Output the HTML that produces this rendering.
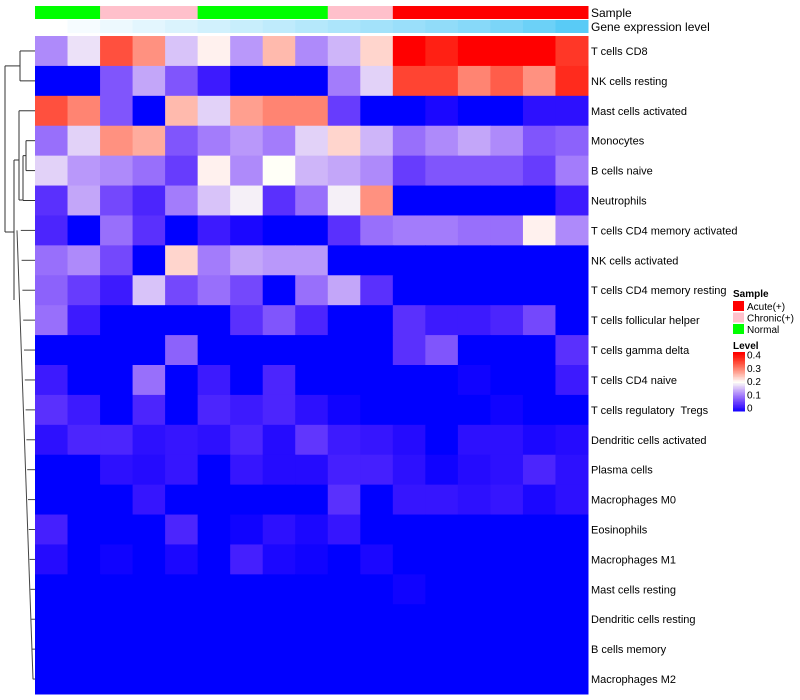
<!DOCTYPE html>
<html><head><meta charset="utf-8"><style>
body{margin:0;background:#fff;}
svg{display:block;font-family:"Liberation Sans",sans-serif;}
text{white-space:pre;}
</style></head><body>
<svg id="chart" width="800" height="700"></svg>
<script>
const rows = ["T cells CD8","NK cells resting","Mast cells activated","Monocytes","B cells naive","Neutrophils","T cells CD4 memory activated","NK cells activated","T cells CD4 memory resting","T cells follicular helper","T cells gamma delta","T cells CD4 naive","T cells regulatory  Tregs","Dendritic cells activated","Plasma cells","Macrophages M0","Eosinophils","Macrophages M1","Mast cells resting","Dendritic cells resting","B cells memory","Macrophages M2"];
const sampleGroups = ["Normal","Normal","Chronic","Chronic","Chronic","Normal","Normal","Normal","Normal","Chronic","Chronic","Acute","Acute","Acute","Acute","Acute","Acute"];
const geneLevel = [0,0.05,0.1,0.15,0.2,0.25,0.3,0.35,0.4,0.45,0.5,0.55,0.6,0.65,0.72,0.8,0.9];
const values = [
[0.12,0.18,0.33,0.28,0.16,0.21,0.13,0.25,0.12,0.15,0.23,0.40,0.37,0.40,0.40,0.40,0.35],
[0,0,0.08,0.14,0.08,0.03,0,0,0,0.11,0.17,0.34,0.34,0.29,0.32,0.28,0.36],
[0.33,0.29,0.08,0,0.25,0.17,0.27,0.29,0.29,0.06,0,0,0.01,0,0,0.02,0.02],
[0.1,0.17,0.28,0.26,0.08,0.11,0.13,0.11,0.17,0.23,0.15,0.1,0.12,0.14,0.12,0.08,0.09],
[0.17,0.13,0.12,0.1,0.06,0.21,0.12,0.2,0.15,0.14,0.12,0.06,0.08,0.08,0.08,0.06,0.11],
[0.05,0.14,0.07,0.04,0.11,0.16,0.19,0.05,0.1,0.19,0.28,0,0,0,0,0,0.03],
[0.04,0,0.1,0.05,0,0.03,0.01,0,0,0.05,0.1,0.11,0.11,0.1,0.1,0.21,0.12],
[0.1,0.12,0.07,0,0.23,0.11,0.14,0.13,0.13,0,0,0,0,0,0,0,0],
[0.09,0.06,0.03,0.16,0.07,0.1,0.07,0,0.1,0.14,0.05,0,0,0,0,0,0],
[0.1,0.03,0,0,0,0,0.05,0.08,0.04,0,0,0.05,0.03,0.03,0.04,0.07,0],
[0,0,0,0,0.09,0,0,0,0,0,0,0.05,0.08,0,0,0,0.05],
[0.03,0,0,0.1,0,0.03,0,0.04,0,0,0,0,0,0.005,0,0,0.03],
[0.05,0.03,0,0.04,0,0.04,0.03,0.04,0.02,0.005,0,0,0,0,0.005,0,0],
[0.02,0.04,0.04,0.02,0.025,0.02,0.04,0.015,0.055,0.03,0.025,0.015,0,0.02,0.02,0.01,0.015],
[0,0,0.02,0.015,0.025,0,0.025,0.015,0.015,0.035,0.035,0.02,0.005,0.015,0.02,0.04,0.02],
[0,0,0,0.025,0,0,0,0,0,0.05,0,0.025,0.025,0.02,0.025,0.01,0.02],
[0.035,0,0,0,0.04,0,0.005,0.02,0.01,0.025,0,0,0,0,0,0,0],
[0.015,0,0.005,0,0.01,0,0.035,0.01,0.005,0,0.01,0,0,0,0,0,0],
[0,0,0,0,0,0,0,0,0,0,0,0.005,0,0,0,0,0],
[0,0,0,0,0,0,0,0,0,0,0,0,0,0,0,0,0],
[0,0,0,0,0,0,0,0,0,0,0,0,0,0,0,0,0],
[0,0,0,0,0,0,0,0,0,0,0,0,0,0,0,0,0]
];
const legendTicks = [0,0.1,0.2,0.3,0.4];
const sampleLegend = ["Acute(+)","Chronic(+)","Normal"];

const NS="http://www.w3.org/2000/svg";
const svg=document.getElementById('chart');
const X0=35,X1=588,Y0=36,Y1=694;
const cw=(X1-X0)/values[0].length, rh=(Y1-Y0)/rows.length;
const xPos=i=>X0+i*cw, yPos=j=>Y0+j*rh;
function col(v){
  v=Math.max(0,Math.min(0.4,v));
  let r,g,b;
  if(v<=0.2){const t=v/0.2;r=255*Math.pow(t,0.75);g=255*Math.pow(t,1.2);b=255-8*t;}
  else{const t=(v-0.2)/0.2;r=255;g=255*Math.pow(1-t,1.1);b=255*Math.pow(1-t,1.35);}
  return `rgb(${Math.round(r)},${Math.round(g)},${Math.round(b)})`;
}
function gcol(t){
  const r=255+(71-255)*t,g=255+(197-255)*t,b=255+(245-255)*t;
  return `rgb(${Math.round(r)},${Math.round(g)},${Math.round(b)})`;
}
const sampleColor={Acute:"#ff0000",Chronic:"#ffc0cb",Normal:"#00ff00"};
function el(tag,attrs){const e=document.createElementNS(NS,tag);for(const k in attrs)e.setAttribute(k,attrs[k]);svg.appendChild(e);return e;}

values.forEach((row,j)=>row.forEach((v,i)=>{
  const r=el('rect',{x:xPos(i),y:yPos(j),width:cw+0.5,height:rh+0.5,fill:col(v)});
  
  
}));
rows.forEach((n,j)=>{
  const t=el('text',{x:591,y:yPos(j)+rh/2+4,'font-size':11,fill:'#000'});
  t.textContent=n;
  
  
});
sampleGroups.forEach((s,i)=>{
  const r=el('rect',{x:xPos(i),y:6,width:cw+0.5,height:13,fill:sampleColor[s]});
  
  
});
geneLevel.forEach((g,i)=>{
  const r=el('rect',{x:xPos(i),y:20,width:cw+0.5,height:13,fill:gcol(g)});
  
  
});
let t=el('text',{x:591,y:17,'font-size':12});t.textContent="Sample";


t=el('text',{x:591,y:31,'font-size':12});t.textContent="Gene expression level";



const cy=j=>yPos(j)+rh/2;
const segs=[
 [20,cy(0),20,cy(1)],[20,cy(0),35,cy(0)],[20,cy(1),35,cy(1)],
 [5,(cy(0)+cy(1))/2,20,(cy(0)+cy(1))/2],
 [5,(cy(0)+cy(1))/2,5,232],
 [26,cy(3),26,cy(4)],[26,cy(3),35,cy(3)],[26,cy(4),35,cy(4)],
 [23,(cy(3)+cy(4))/2,26,(cy(3)+cy(4))/2],[23,(cy(3)+cy(4))/2,23,cy(5)],[23,cy(5),35,cy(5)],
 [19,cy(2),35,cy(2)],[19,cy(2),19,200],[19,200,23,200],
 [5,232,14,232],[14,160,14,300],[14,160,19,160],
];
segs.forEach(s=>{const l=el('line',{x1:s[0],y1:s[1],x2:s[2],y2:s[3],stroke:'#333','stroke-width':1});
 });
for(let j=6;j<rows.length;j++){
  const x=16+j*0.8;
  const l1=el('line',{x1:x,y1:cy(j),x2:35,y2:cy(j),stroke:'#444','stroke-width':1});
  
  
}
const lv=el('line',{x1:17,y1:cy(6),x2:33,y2:cy(21),stroke:'#444','stroke-width':1});



t=el('text',{x:733,y:297,'font-size':10,'font-weight':'bold'});t.textContent="Sample";


const lc=["#ff0000","#ffc0cb","#00ff00"];
sampleLegend.forEach((s,k)=>{
  const r=el('rect',{x:733,y:301+k*11.5,width:11,height:10,fill:lc[k]});
  
  
  const tt=el('text',{x:747,y:310+k*11.5,'font-size':10});tt.textContent=s;
  
  
});
t=el('text',{x:733,y:349,'font-size':10,'font-weight':'bold'});t.textContent="Level";


const cbTop=352,cbBot=411;
for(let k=0;k<40;k++){
  const v=0.4*(1-k/40);
  const r=el('rect',{x:733,y:cbTop+k*(cbBot-cbTop)/40,width:12,height:(cbBot-cbTop)/40+0.5,fill:col(v)});
  
  
}
legendTicks.forEach(v=>{
  const y=cbBot-3-(v/0.4)*(cbBot-cbTop-6);
  const tt=el('text',{x:747,y:y+3.5,'font-size':10});tt.textContent=String(v);
  
  
});
</script>
</body></html>
